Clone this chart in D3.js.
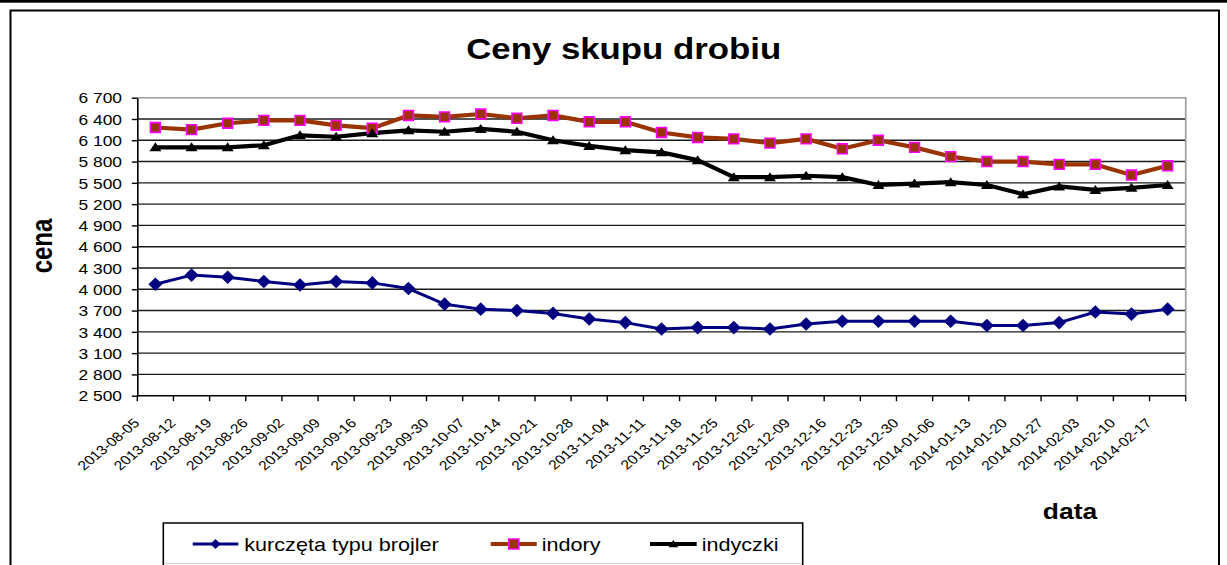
<!DOCTYPE html>
<html><head><meta charset="utf-8">
<script src="https://cdn.jsdelivr.net/npm/d3@7"></script>
<style>
html,body{margin:0;padding:0;background:#fff;}
svg{display:block;font-family:"Liberation Sans",Arial,sans-serif;}
</style>
</head><body>
<svg id="chart" width="1227" height="565"></svg>
<script>
const categories = ["2013-08-05","2013-08-12","2013-08-19","2013-08-26","2013-09-02","2013-09-09","2013-09-16","2013-09-23","2013-09-30","2013-10-07","2013-10-14","2013-10-21","2013-10-28","2013-11-04","2013-11-11","2013-11-18","2013-11-25","2013-12-02","2013-12-09","2013-12-16","2013-12-23","2013-12-30","2014-01-06","2014-01-13","2014-01-20","2014-01-27","2014-02-03","2014-02-10","2014-02-17"];
const kurczeta = [4070,4200,4170,4110,4060,4110,4090,4010,3790,3720,3700,3660,3580,3530,3440,3460,3460,3440,3510,3550,3550,3550,3550,3490,3490,3530,3680,3650,3720];
const indory = [6280,6250,6340,6380,6380,6310,6270,6450,6430,6470,6410,6450,6360,6360,6210,6140,6120,6060,6120,5980,6100,6000,5870,5800,5800,5760,5760,5610,5740];
const indyczki = [6000,6000,6000,6030,6170,6150,6200,6240,6220,6260,6220,6100,6020,5960,5930,5820,5580,5580,5600,5580,5470,5490,5510,5470,5340,5450,5400,5430,5470];
const yTickValues = [2500,2800,3100,3400,3700,4000,4300,4600,4900,5200,5500,5800,6100,6400,6700];
const seriesNames = ["kurczęta typu brojler","indory","indyczki"];
const titleText = "Ceny skupu drobiu";
const yTitle = "cena";
const xTitle = "data";

const SX = 1.2; // horizontal stretch of the original rendering
const svg = d3.select("#chart");

// outer decoration
svg.append("rect").attr("x",0).attr("y",0).attr("width",1227).attr("height",2.7).attr("fill","#000");
svg.append("path").attr("d","M10.5,600 V10.5 H1219 V600").attr("fill","none").attr("stroke","#000").attr("stroke-width",2);

const L = 137.3, R = 1185.7, T = 97.7, B = 395.7;
const x = d3.scaleBand().domain(categories).range([L,R]);
const y = d3.scaleLinear().domain([2500,6700]).range([B,T]);
const cx = d => x(d) + x.bandwidth()/2;

// gridlines
svg.append("g").selectAll("line").data(yTickValues.slice(1,-1)).join("line")
  .attr("x1",L).attr("x2",R).attr("y1",d=>y(d)).attr("y2",d=>y(d))
  .attr("stroke","#1a1a1a").attr("stroke-width",1.4);
// plot border top/right
svg.append("path").attr("d",`M${L},${T} H${R} V${B}`).attr("fill","none").attr("stroke","#9a9a9a").attr("stroke-width",1.6);

// y axis
const yAxis = d3.axisLeft(y).tickValues(yTickValues).tickSize(5.5).tickSizeOuter(0)
  .tickFormat(d => d3.format(",")(d).replace(/,/g," "));
const gy = svg.append("g").attr("transform",`translate(${L},0)`).call(yAxis);
gy.select(".domain").attr("stroke","#000").attr("stroke-width",1.6);
gy.selectAll(".tick line").attr("stroke","#000").attr("stroke-width",1.4);
gy.selectAll(".tick text").attr("x",0).attr("dy",null)
  .attr("transform",`translate(-15.3,5.2) scale(${SX},1)`)
  .attr("font-size",14.5).attr("fill","#000").attr("font-family","Liberation Sans, Arial, sans-serif");

// x axis (ticks at band boundaries)
const boundaries = categories.map(c => x(c)).concat([R]);
svg.append("g").selectAll("line").data(boundaries).join("line")
  .attr("x1",d=>d).attr("x2",d=>d).attr("y1",B).attr("y2",B+5.5)
  .attr("stroke","#000").attr("stroke-width",1.4);
svg.append("line").attr("x1",L).attr("x2",R).attr("y1",B).attr("y2",B).attr("stroke","#000").attr("stroke-width",1.6);
svg.append("g").selectAll("text").data(categories).join("text")
  .attr("transform",d=>`translate(${cx(d)-15},424) scale(${SX},1) rotate(-45)`)
  .attr("text-anchor","end").attr("font-size",13).attr("fill","#000").text(d=>d);

// series
const line = d3.line().x((d,i)=>cx(categories[i])).y(d=>y(d));
const series = [
  {name:seriesNames[0], values:kurczeta, color:"#000080", width:3, marker:"diamond"},
  {name:seriesNames[1], values:indory, color:"#993300", width:4.2, marker:"square"},
  {name:seriesNames[2], values:indyczki, color:"#000000", width:4.2, marker:"triangle"}
];
function markerPath(type, s){
  if(type==="diamond") return `M0,${-6.8*s} L${7*s},0 L0,${6.8*s} L${-7*s},0 Z`;
  if(type==="triangle") return `M0,${-5*s} L${6*s},${4*s} L${-6*s},${4*s} Z`;
  return `M${-4.9*s},${-4.9*s} H${4.9*s} V${4.9*s} H${-4.9*s} Z`;
}
function drawMarker(g, type, s){
  const p = g.append("path").attr("d",markerPath(type,s));
  if(type==="square") p.attr("fill","#993300").attr("stroke","#ff00ff").attr("stroke-width",1.6);
  else if(type==="diamond") p.attr("fill","#000080");
  else p.attr("fill","#000");
}
series.forEach(s=>{
  svg.append("path").datum(s.values).attr("d",line).attr("fill","none")
    .attr("stroke",s.color).attr("stroke-width",s.width).attr("stroke-linejoin","round");
});
series.forEach(s=>{
  s.values.forEach((v,i)=>{
    const g = svg.append("g").attr("transform",`translate(${cx(categories[i])},${y(v)})`);
    drawMarker(g, s.marker, 1);
  });
});

// titles
svg.append("text").attr("transform",`translate(623.7,59) scale(${SX},1)`).attr("text-anchor","middle")
  .attr("font-size",29).attr("font-weight","bold").text(titleText);
svg.append("text").attr("transform",`translate(52.3,246) scale(${SX},1) rotate(-90)`).attr("text-anchor","middle")
  .attr("font-size",24).attr("font-weight","bold").text(yTitle);
svg.append("text").attr("transform",`translate(1070,519) scale(${SX},1)`).attr("text-anchor","middle")
  .attr("font-size",22).attr("font-weight","bold").text(xTitle);

// legend
const lg = svg.append("g");
lg.append("path").attr("d","M163.3,566 V523 H802.7 V566").attr("fill","none").attr("stroke","#000").attr("stroke-width",1.6);
lg.append("line").attr("x1",164).attr("x2",802).attr("y1",563.5).attr("y2",563.5).attr("stroke","#d0d0d0").attr("stroke-width",1);
const legendItems = [
  {x0:192.7, x1:238.3, tx:244.3},
  {x0:490.7, x1:536.7, tx:541.7},
  {x0:650, x1:696.7, tx:701.7}
];
series.forEach((s,i)=>{
  const it = legendItems[i];
  lg.append("line").attr("x1",it.x0).attr("x2",it.x1).attr("y1",544).attr("y2",544)
    .attr("stroke",s.color).attr("stroke-width",s.width);
  const g = lg.append("g").attr("transform",`translate(${(it.x0+it.x1)/2},544)`);
  drawMarker(g, s.marker, i===0?0.75:(i===1?1.03:0.8));
  lg.append("text").attr("transform",`translate(${it.tx},551) scale(${SX},1)`)
    .attr("font-size",18).attr("fill","#000").text(s.name);
});
</script>
</body></html>
